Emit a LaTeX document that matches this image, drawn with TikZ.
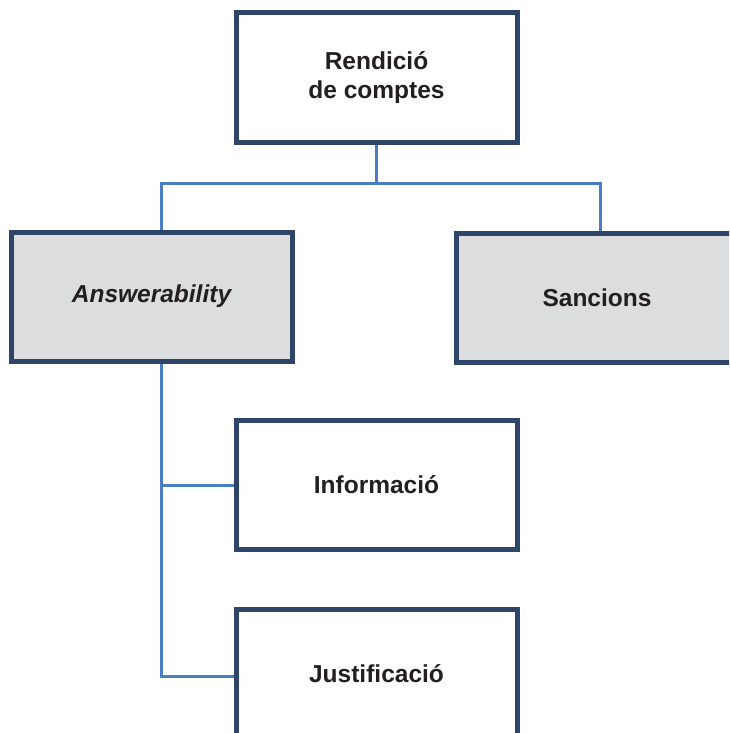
\documentclass[tikz,border=0pt]{standalone}
\usepackage{fontspec}
\setmainfont{Liberation Sans}
\definecolor{navy}{RGB}{46,68,104}
\definecolor{linkblue}{RGB}{74,126,194}
\definecolor{boxgray}{RGB}{220,221,223}
\definecolor{textblack}{RGB}{35,31,32}
\begin{document}
\begin{tikzpicture}[x=1pt,y=-1pt,
  box/.style={draw=navy,line width=5pt,fill=white,minimum width=281pt,minimum height=129pt,
    align=center,text=textblack,font=\fontsize{24.5}{29}\selectfont\bfseries,inner sep=0pt},
  graybox/.style={box,fill=boxgray},
  link/.style={draw=linkblue,line width=3pt}]
\useasboundingbox (0,0) rectangle (729,733);
\clip (0,0) rectangle (729,733);
\node[box,minimum height=130pt] (top) at (376.5,77.5) {Rendició\\de comptes};
\node[graybox] (left) at (151.5,296.5) {\itshape Answerability};
\node[graybox] (right) at (597,297.5) {Sancions};
\node[box] (info) at (376.5,485) {Informació};
\node[box] (just) at (376.5,674) {Justificació};
\coordinate (hl) at (161,183);
\coordinate (hr) at (600,183);
\coordinate (vb) at (161,676);
\draw[link] (top.south) -- (top.south |- hl);
\draw[link] (hl |- left.north) -- (hl) -- (hr) -- (hr |- right.north);
\draw[link] (vb |- left.south) -- (vb) -- (vb -| just.west);
\draw[link] (vb |- info.west) -- (info.west);
\end{tikzpicture}
\end{document}
